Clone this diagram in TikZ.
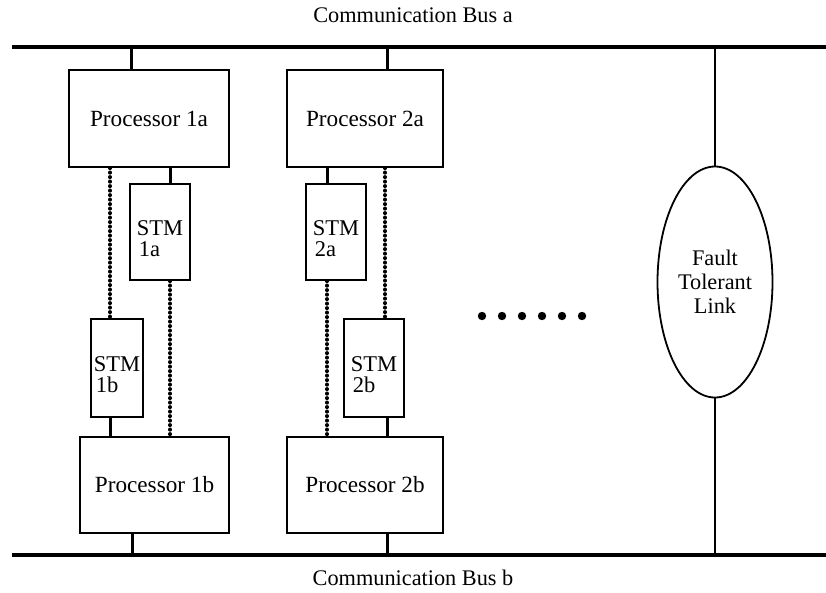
\documentclass[tikz,border=0pt]{standalone}
\usepackage{fontspec}
\setmainfont{Liberation Serif}
\usetikzlibrary{shapes.geometric}
\begin{document}
\begin{tikzpicture}[x=1pt,y=-1pt,
  every node/.style={font=\fontsize{22.3}{24}\selectfont},
  box/.style={draw,line width=1.8pt,inner sep=0pt,align=center,font=\fontsize{23.2}{26}\selectfont},
  stmbox/.style={draw,line width=1.8pt,inner sep=0pt},
  stmtext/.style={font=\fontsize{22.5}{21}\selectfont,align=left,inner sep=0pt},
  bus/.style={line width=4pt},
  stub/.style={line width=3pt},
  dotline/.style={line width=3.6pt,line cap=round,dash pattern=on 0.4pt off 4.1pt},
  thinlink/.style={line width=1.6pt}]
\useasboundingbox (0,0) rectangle (826,592);
% labels
\node (lbla) at (413,15) {Communication Bus a};
\node (lblb) at (413,578) {Communication Bus b};
% buses
\coordinate (baL) at (12,47);
\coordinate (baR) at (826,47);
\coordinate (bbL) at (12,555);
\coordinate (bbR) at (826,555);
\draw[bus] (baL) -- (baR);
\draw[bus] (bbL) -- (bbR);
% processors
\node[box,minimum width=160,minimum height=97] (P1a) at (149,118.5) {Processor 1a};
\node[box,minimum width=156,minimum height=97] (P2a) at (365,118.5) {Processor 2a};
\node[box,minimum width=149,minimum height=96] (P1b) at (154.5,485) {Processor 1b};
\node[box,minimum width=156,minimum height=96] (P2b) at (365,485) {Processor 2b};
% STMs
\node[stmbox,minimum width=60,minimum height=96] (S1a) at (160,232) {};
\node[stmbox,minimum width=60,minimum height=96] (S2a) at (336,232) {};
\node[stmbox,minimum width=52,minimum height=98] (S1b) at (117,368) {};
\node[stmbox,minimum width=60,minimum height=98] (S2b) at (374,368) {};
\node[stmtext] (T1a) at ([yshift=-7pt]S1a.center) {STM\\\hspace{2pt}1a};
\node[stmtext] (T2a) at ([yshift=-7pt]S2a.center) {STM\\\hspace{2pt}2a};
\node[stmtext] (T1b) at ([yshift=-7pt]S1b.center) {STM\\\hspace{2pt}1b};
\node[stmtext] (T2b) at ([yshift=-7pt]S2b.center) {STM\\\hspace{2pt}2b};
% fault tolerant link
\node[draw,ellipse,line width=1.8pt,inner sep=0pt,align=center,minimum width=115,minimum height=231] (FTL) at (715,282) {Fault\\Tolerant\\Link};
% bus stubs
\coordinate (ba1) at (131,47);
\coordinate (ba2) at (387,47);
\coordinate (bb1) at (132,555);
\coordinate (bb2) at (387,555);
\draw[stub] (ba1) -- (ba1 |- P1a.north);
\draw[stub] (ba2) -- (ba2 |- P2a.north);
\draw[stub] (bb1) -- (bb1 |- P1b.south);
\draw[stub] (bb2) -- (bb2 |- P2b.south);
% processor to STM stubs
\draw[stub] ([xshift=10pt]S1a.north) -- ([xshift=10pt]S1a.north |- P1a.south);
\draw[stub] ([xshift=-9pt]S2a.north) -- ([xshift=-9pt]S2a.north |- P2a.south);
\draw[stub] ([xshift=-7pt]S1b.south) -- ([xshift=-7pt]S1b.south |- P1b.north);
\draw[stub] ([xshift=13pt]S2b.south) -- ([xshift=13pt]S2b.south |- P2b.north);
% dotted links
\draw[dotline] ([xshift=-7pt]S1b.north |- P1a.south) -- ([xshift=-7pt]S1b.north);
\draw[dotline] ([xshift=10pt]S1a.south) -- ([xshift=10pt]S1a.south |- P1b.north);
\draw[dotline] ([xshift=-9pt]S2a.south) -- ([xshift=-9pt]S2a.south |- P2b.north);
\draw[dotline] ([xshift=11pt]S2b.north |- P2a.south) -- ([xshift=11pt]S2b.north);
% link lines
\draw[thinlink] (FTL.north) -- (FTL.north |- baL);
\draw[thinlink] (FTL.south) -- (FTL.south |- bbL);
% ellipsis dots
\foreach \i in {0,...,5} \fill (482+20*\i,316) circle (4.2);
\end{tikzpicture}
\end{document}
